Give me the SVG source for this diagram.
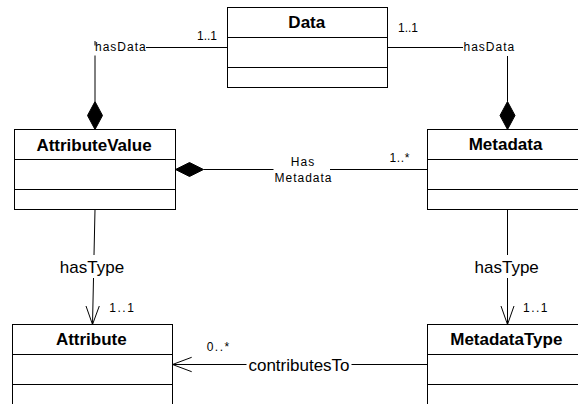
<svg xmlns="http://www.w3.org/2000/svg" width="578" height="404" viewBox="0 0 578 404">
  <defs>
    <style>
      .box { fill: #fff; stroke: #000; stroke-width: 1; }
      .sep { stroke: #000; stroke-width: 1; fill: none; }
      .title { font-family: "Liberation Sans", Arial, sans-serif; font-size: 17px; font-weight: bold; fill: #000; text-anchor: middle; }
      .line { stroke: #000; stroke-width: 1; fill: none; }
      .head { stroke: #000; stroke-width: 1; fill: none; }
      .diamond { fill: #000; stroke: #000; stroke-width: 1; }
      .role { font-family: "Liberation Sans", Arial, sans-serif; font-size: 12px; letter-spacing: 1px; fill: #000; }
      .assoc { font-family: "Liberation Sans", Arial, sans-serif; font-size: 17px; fill: #000; }
      .mult { font-family: "Liberation Sans", Arial, sans-serif; font-size: 12px; fill: #000; }
      .mult-wide { font-family: "Liberation Sans", Arial, sans-serif; font-size: 12px; letter-spacing: 1.5px; fill: #000; }
    </style>
  </defs>

  <rect width="578" height="404" fill="#fff"/>

  <!-- associations -->
  <g id="connectors">
    <!-- Data to AttributeValue (composition) -->
    <path class="line" d="M227.5,47.5 H146"/>
    <path class="line" d="M95,41 V45.5"/>
    <path class="line" d="M95,55.5 V101.5"/>
    <polygon class="diamond" points="95,101.5 102.5,115.5 95,129.5 87.5,115.5"/>
    <text class="role" x="95" y="50.5">hasData</text>
    <text class="mult" x="197" y="40">1..1</text>

    <!-- Data to Metadata (composition) -->
    <path class="line" d="M387.5,47.5 H463"/>
    <path class="line" d="M507.5,56 V101.5"/>
    <polygon class="diamond" points="507.5,101.5 515,115.5 507.5,129.5 500,115.5"/>
    <text class="role" x="463.5" y="50.5">hasData</text>
    <text class="mult" x="398" y="31.5">1..1</text>

    <!-- AttributeValue to Metadata (composition) -->
    <polygon class="diamond" points="175.5,169.5 189.5,162.5 203.5,169.5 189.5,176.5"/>
    <path class="line" d="M203.5,169.5 H273.5"/>
    <path class="line" d="M330,169.5 H427.5"/>
    <text class="role" x="303" y="165.7" text-anchor="middle">Has</text>
    <text class="role" x="303.5" y="181.7" text-anchor="middle">Metadata</text>
    <text class="mult" x="389.5" y="161.7" letter-spacing="0.6">1..*</text>

    <!-- AttributeValue to Attribute -->
    <path class="line" d="M95,209.5 L94,255"/>
    <path class="line" d="M93.5,278 L92.5,324.5"/>
    <polyline class="head" points="86,306 92.5,324.5 99.3,306"/>
    <text class="assoc" x="92" y="273.3" text-anchor="middle">hasType</text>
    <text class="mult-wide" x="109.3" y="311.5">1..1</text>

    <!-- Metadata to MetadataType -->
    <path class="line" d="M507.5,209.5 V255"/>
    <path class="line" d="M507.5,278 V324.5"/>
    <polyline class="head" points="501,306 507.5,324.5 514,306"/>
    <text class="assoc" x="506.7" y="273.3" text-anchor="middle">hasType</text>
    <text class="mult-wide" x="523" y="311.8">1..1</text>

    <!-- MetadataType to Attribute -->
    <path class="line" d="M427.5,364.5 H351.5"/>
    <path class="line" d="M246.5,364.5 H172.5"/>
    <polyline class="head" points="191.7,357.3 172.5,364.5 191.7,371.7"/>
    <text class="assoc" x="299" y="370.6" text-anchor="middle">contributesTo</text>
    <text class="mult-wide" x="206.7" y="350.6">0..*</text>
  </g>

  <!-- classes -->
  <g id="Data">
    <rect class="box" x="227.5" y="7.5" width="160" height="80"/>
    <path class="sep" d="M227.5,37.5 H387.5 M227.5,67.5 H387.5"/>
    <text class="title" x="306.8" y="27.6">Data</text>
  </g>

  <g id="AttributeValue">
    <rect class="box" x="14.5" y="129.5" width="161" height="80"/>
    <path class="sep" d="M14.5,159.5 H175.5 M14.5,189.5 H175.5"/>
    <text class="title" x="94" y="150.5">AttributeValue</text>
  </g>

  <g id="Metadata">
    <rect class="box" x="427.5" y="129.5" width="160" height="80"/>
    <path class="sep" d="M427.5,159.5 H587.5 M427.5,189.5 H587.5"/>
    <text class="title" x="505.5" y="150.2">Metadata</text>
  </g>

  <g id="Attribute">
    <rect class="box" x="12.5" y="324.5" width="160" height="80"/>
    <path class="sep" d="M12.5,354.5 H172.5 M12.5,384.5 H172.5"/>
    <text class="title" x="91.3" y="345">Attribute</text>
  </g>

  <g id="MetadataType">
    <rect class="box" x="427.5" y="324.5" width="160" height="80"/>
    <path class="sep" d="M427.5,354.5 H587.5 M427.5,384.5 H587.5"/>
    <text class="title" x="506.3" y="345">MetadataType</text>
  </g>
</svg>
